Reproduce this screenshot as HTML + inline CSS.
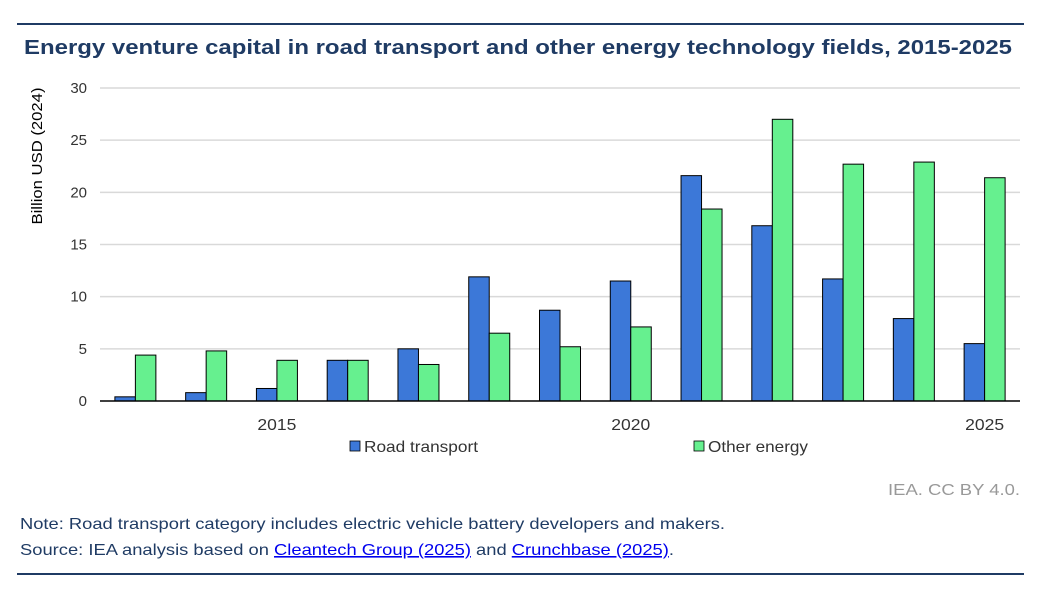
<!DOCTYPE html>
<html><head><meta charset="utf-8"><style>
body{margin:0;background:#fff;width:1048px;height:601px;overflow:hidden;font-family:"Liberation Sans",Arial,sans-serif}
</style></head><body>
<svg width="1048" height="601" xmlns="http://www.w3.org/2000/svg" font-family="Liberation Sans, Arial, sans-serif">
<line x1="17" y1="24" x2="1024" y2="24" stroke="#1f3b64" stroke-width="2"/>
<text x="24" y="54" font-size="20" font-weight="bold" fill="#1f3b64" textLength="988" lengthAdjust="spacingAndGlyphs">Energy venture capital in road transport and other energy technology fields, 2015-2025</text>
<g id="grid"></g>
<g id="bars"></g>
<g id="ticks" font-size="15" fill="#333"></g>
<text transform="translate(42,156) rotate(-90)" text-anchor="middle" font-size="15" fill="#000" textLength="137" lengthAdjust="spacingAndGlyphs">Billion USD (2024)</text>
<g><rect x="350" y="441" width="10" height="10" fill="#3c78d8" stroke="#000" stroke-width="0.8"/><text x="364" y="452" font-size="16" fill="#333" textLength="114" lengthAdjust="spacingAndGlyphs">Road transport</text></g>
<g><rect x="694" y="441" width="10" height="10" fill="#66f08f" stroke="#000" stroke-width="0.8"/><text x="708" y="452" font-size="16" fill="#333" textLength="100" lengthAdjust="spacingAndGlyphs">Other energy</text></g>
<text x="888" y="495" font-size="16" fill="#999" textLength="132" lengthAdjust="spacingAndGlyphs">IEA. CC BY 4.0.</text>
<text x="20" y="529" font-size="16" fill="#1f3b64" textLength="705" lengthAdjust="spacingAndGlyphs">Note: Road transport category includes electric vehicle battery developers and makers.</text>
<text x="20" y="555" font-size="16" fill="#1f3b64" textLength="654" lengthAdjust="spacingAndGlyphs">Source: IEA analysis based on <tspan fill="#0000ee" text-decoration="underline">Cleantech Group (2025)</tspan> and <tspan fill="#0000ee" text-decoration="underline">Crunchbase (2025)</tspan>.</text>
<line x1="17" y1="574" x2="1024" y2="574" stroke="#1f3b64" stroke-width="2"/>
</svg>
<script>
const years=[2013,2014,2015,2016,2017,2018,2019,2020,2021,2022,2023,2024,2025];
const road=[0.4,0.8,1.2,3.9,5.0,11.9,8.7,11.5,21.6,16.8,11.7,7.9,5.5];
const other=[4.4,4.8,3.9,3.9,3.5,6.5,5.2,7.1,18.4,27.0,22.7,22.9,21.4];
const yTicks=[0,5,10,15,20,25,30];
const xLabels=[2015,2020,2025];
const NS="http://www.w3.org/2000/svg";
const L=100,R=1020,Y0=401,Y1=88,max=30;
const y=v=>Y0-(Y0-Y1)*v/max;
const step=(R-L)/years.length;
const xc=i=>L+step*(i+0.5);
const bw=20.5;
function mk(t,a,p){const e=document.createElementNS(NS,t);for(const k in a)e.setAttribute(k,a[k]);p.appendChild(e);return e;}
const grid=document.getElementById('grid'),bars=document.getElementById('bars'),ticks=document.getElementById('ticks');
yTicks.forEach(v=>{
 if(v>0){const g=mk('line',{x1:L,x2:R,y1:y(v),y2:y(v),stroke:'#d9d9d9','stroke-width':1.5},grid);
 
 }
 const t=mk('text',{x:87,y:y(v)+5,'text-anchor':'end'},ticks);t.textContent=v;
 
 
});
years.forEach((yr,i)=>{
 const b=mk('rect',{x:xc(i)-bw,y:y(road[i]),width:bw,height:Y0-y(road[i]),fill:'#3c78d8',stroke:'#000','stroke-width':1},bars);
 
 
 const g=mk('rect',{x:xc(i),y:y(other[i]),width:bw,height:Y0-y(other[i]),fill:'#66f08f',stroke:'#000','stroke-width':1},bars);
 
 
 if(xLabels.includes(yr)){const t=mk('text',{x:xc(i),y:430,'text-anchor':'middle','font-size':16,textLength:39,lengthAdjust:'spacingAndGlyphs'},ticks);t.textContent=yr;
 
 }
});
const ax=mk('line',{x1:L,x2:R,y1:Y0,y2:Y0,stroke:'#000','stroke-width':1.5},grid.parentNode);


</script>
</body></html>
